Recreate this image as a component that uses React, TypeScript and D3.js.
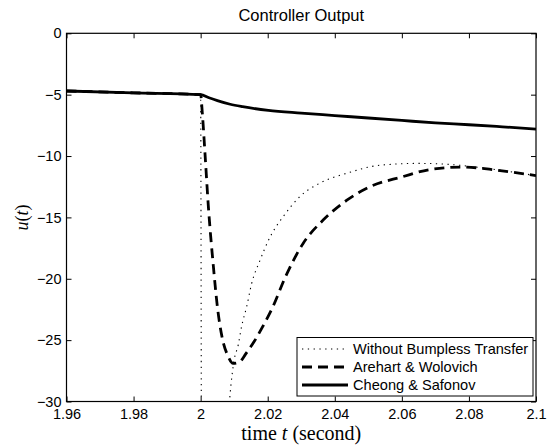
import React, { useRef, useEffect } from "react";
import * as d3 from "d3";

// chart size and plot box
const width = 548;
const height = 445;
const margin = { top: 33.3, right: 12, bottom: 43.5, left: 66.5 };

// axis ticks
const xTicks = [1.96, 1.98, 2, 2.02, 2.04, 2.06, 2.08, 2.1];
const yTicks = [0, -5, -10, -15, -20, -25, -30];

// legend labels
const seriesNames = ["Without Bumpless Transfer", "Arehart & Wolovich", "Cheong & Safonov"];

// Without Bumpless Transfer (dotted)
const noBumplessT = [1.96, 1.98, 2.0, 2.0003, 2.0082, 2.0093, 2.01, 2.0112, 2.0122, 2.0137, 2.0152, 2.0177, 2.0207, 2.0247, 2.0296, 2.0356, 2.0436, 2.0535, 2.065, 2.075, 2.085, 2.093, 2.1];
const noBumplessU = [-4.7, -4.85, -5.0, -40, -31, -28.0, -26.6, -25.4, -23.9, -22.3, -20.4, -18.5, -16.6, -14.9, -13.3, -12.2, -11.4, -10.75, -10.6, -10.7, -11.0, -11.3, -11.6];

// Arehart & Wolovich (dashed)
const arehartT = [1.96, 1.98, 2.0, 2.0005, 2.0013, 2.0023, 2.0038, 2.005, 2.0065, 2.008, 2.0097, 2.0115, 2.0135, 2.016, 2.0185, 2.021, 2.0257, 2.0306, 2.0366, 2.0436, 2.0505, 2.06, 2.0684, 2.0783, 2.0883, 2.1];
const arehartU = [-4.7, -4.85, -5.0, -6.5, -9.8, -14.1, -19.0, -22.3, -24.9, -26.2, -26.9, -26.8, -26.1, -25.1, -23.9, -22.6, -19.6, -17.1, -15.2, -13.6, -12.5, -11.7, -11.1, -10.9, -11.15, -11.6];

// Cheong & Safonov (solid)
const cheongT = [1.96, 1.98, 2.0, 2.0025, 2.005, 2.0088, 2.0125, 2.0202, 2.03, 2.04, 2.05, 2.06, 2.07, 2.08, 2.09, 2.1];
const cheongU = [-4.7, -4.85, -5.0, -5.25, -5.48, -5.78, -5.98, -6.28, -6.5, -6.7, -6.9, -7.1, -7.3, -7.45, -7.62, -7.8];

const styles = [
  { width: 1.1, dash: "1.3,4.5", color: "#000" },
  { width: 2.8, dash: "10,6", color: "#000" },
  { width: 2.8, dash: null, color: "#000" },
];

const sans = "'Liberation Sans', Arial, Helvetica, sans-serif";
const serif = "'Liberation Serif', 'Times New Roman', serif";

const App = () => {
  const svgRef = useRef(null);

  useEffect(() => {
    const svg = d3.select(svgRef.current);
    svg.selectAll("*").remove();

    const innerWidth = width - margin.left - margin.right;
    const innerHeight = height - margin.top - margin.bottom;

    const x = d3.scaleLinear().domain([1.96, 2.1]).range([0, innerWidth]);
    const y = d3.scaleLinear().domain([-30, 0]).range([innerHeight, 0]);

    const g = svg.append("g").attr("transform", `translate(${margin.left},${margin.top})`);

    g.append("clipPath").attr("id", "plot-clip")
      .append("rect").attr("width", innerWidth).attr("height", innerHeight);

    const series = [
      noBumplessT.map((t, i) => [t, noBumplessU[i]]),
      arehartT.map((t, i) => [t, arehartU[i]]),
      cheongT.map((t, i) => [t, cheongU[i]]),
    ];

    const line = d3.line()
      .x(d => x(d[0]))
      .y(d => y(d[1]))
      .curve(d3.curveMonotoneX);

    const lines = g.append("g").attr("clip-path", "url(#plot-clip)");
    series.forEach((s, i) => {
      lines.append("path")
        .datum(s)
        .attr("d", line)
        .attr("fill", "none")
        .attr("stroke", styles[i].color)
        .attr("stroke-width", styles[i].width)
        .attr("stroke-dasharray", styles[i].dash)
        .attr("stroke-linejoin", "round");
    });

    // axes, ticks pointing inward on all four sides
    const fmt = d3.format("~g");
    const styleAxis = sel => {
      sel.select(".domain").remove();
      sel.selectAll("line").attr("stroke", "#000");
      sel.selectAll("text").attr("font-family", sans).attr("font-size", 14.5).attr("fill", "#000");
    };

    g.append("g").attr("transform", `translate(0,${innerHeight})`)
      .call(d3.axisBottom(x).tickValues(xTicks).tickFormat(fmt).tickSize(-5).tickPadding(7))
      .call(styleAxis);
    g.append("g")
      .call(d3.axisTop(x).tickValues(xTicks).tickFormat(() => "").tickSize(-5))
      .call(styleAxis);
    g.append("g")
      .call(d3.axisLeft(y).tickValues(yTicks).tickFormat(fmt).tickSize(-5).tickPadding(5))
      .call(styleAxis);
    g.append("g").attr("transform", `translate(${innerWidth},0)`)
      .call(d3.axisRight(y).tickValues(yTicks).tickFormat(() => "").tickSize(-5))
      .call(styleAxis);

    g.append("rect")
      .attr("width", innerWidth).attr("height", innerHeight)
      .attr("fill", "none").attr("stroke", "#000").attr("stroke-width", 1.2);

    // legend
    const legend = g.append("g").attr("transform", `translate(${297 - margin.left},${337.5 - margin.top})`);
    legend.append("rect")
      .attr("width", 236).attr("height", 58.5)
      .attr("fill", "#fff").attr("stroke", "#000").attr("stroke-width", 1);
    seriesNames.forEach((name, i) => {
      const ly = 11.5 + i * 18;
      legend.append("line")
        .attr("x1", 5).attr("x2", 51).attr("y1", ly).attr("y2", ly)
        .attr("stroke", styles[i].color)
        .attr("stroke-width", styles[i].width)
        .attr("stroke-dasharray", styles[i].dash);
      legend.append("text")
        .attr("x", 56).attr("y", ly).attr("dy", "0.36em")
        .attr("font-family", sans).attr("font-size", 14.6)
        .text(name);
    });

    // title and axis labels
    svg.append("text")
      .attr("x", margin.left + innerWidth / 2).attr("y", 20.5)
      .attr("text-anchor", "middle")
      .attr("font-family", sans).attr("font-size", 16.5)
      .text("Controller Output");

    const xl = svg.append("text")
      .attr("x", margin.left + innerWidth / 2).attr("y", 440)
      .attr("text-anchor", "middle")
      .attr("font-family", serif).attr("font-size", 20);
    xl.append("tspan").text("time ");
    xl.append("tspan").attr("font-style", "italic").text("t");
    xl.append("tspan").text(" (second)");

    const yl = svg.append("text")
      .attr("transform", `translate(28,${margin.top + innerHeight / 2}) rotate(-90)`)
      .attr("text-anchor", "middle")
      .attr("font-family", serif).attr("font-size", 18);
    yl.append("tspan").attr("font-style", "italic").text("u");
    yl.append("tspan").text("(");
    yl.append("tspan").attr("font-style", "italic").text("t");
    yl.append("tspan").text(")");
  }, []);

  return (
    <svg ref={svgRef} width={width} height={height}
      style={{ position: "absolute", left: 0, top: 0, background: "#fff" }}>
    </svg>
  );
};

export default App;
